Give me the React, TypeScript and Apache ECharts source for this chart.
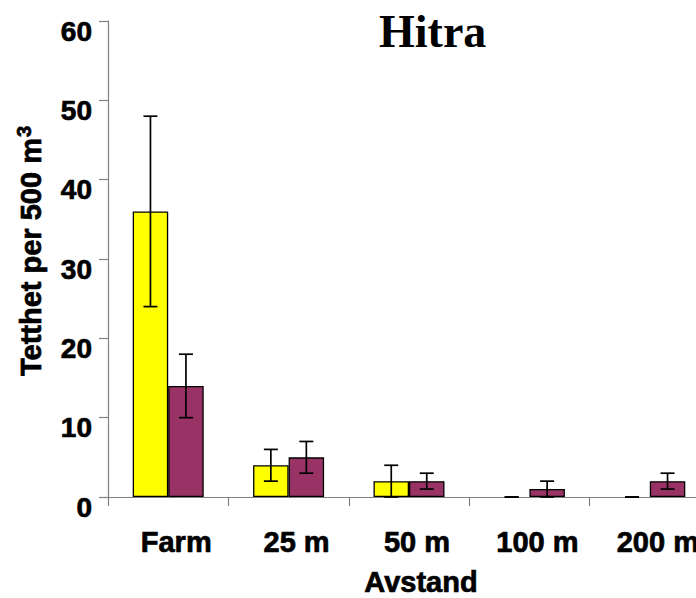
import React, { useEffect, useRef } from "react";
import * as echarts from "echarts";

const categories = ["Farm", "25 m", "50 m", "100 m", "200 m"];
const yellowValues = [36, 4, 2, 0, 0];
const yellowLow = [24, 2, 0, 0, 0];
const yellowHigh = [48, 6, 4, 0, 0];
const purpleValues = [14, 5, 2, 1, 2];
const purpleLow = [10, 3, 1, 0, 1];
const purpleHigh = [18, 7, 3, 2, 3];
const yTicks = { min: 0, max: 60, interval: 10 };

const BAR_W = 35.5;
const FONT = "'Liberation Sans', Arial, sans-serif";
const HEAVY = { textBorderColor: "#000", textBorderWidth: 0.7 };

function barData(vals: number[]) {
  return vals.map((v) => (v === 0 ? { value: 0, itemStyle: { borderWidth: 0 } } : v));
}

function errData(low: number[], high: number[]) {
  return low.map((l, i) => [i, l, high[i]]);
}

function makeErrorSeries(name: string, low: number[], high: number[], offset: number) {
  return {
    type: "custom",
    name,
    z: 10,
    encode: { x: 0, y: [1, 2] },
    data: errData(low, high),
    renderItem: (_params: any, api: any) => {
      const idx = api.value(0);
      const lo = api.coord([idx, api.value(1)]);
      const hi = api.coord([idx, api.value(2)]);
      const x = lo[0] + offset;
      const cap = 7;
      const style = { stroke: "#000", lineWidth: 1.7 };
      return {
        type: "group",
        children: [
          { type: "line", shape: { x1: x, y1: lo[1], x2: x, y2: hi[1] }, style },
          { type: "line", shape: { x1: x - cap, y1: hi[1], x2: x + cap, y2: hi[1] }, style },
          { type: "line", shape: { x1: x - cap, y1: lo[1], x2: x + cap, y2: lo[1] }, style },
        ],
      };
    },
  };
}

export default function App() {
  const ref = useRef<HTMLDivElement>(null);
  useEffect(() => {
    if (!ref.current) return;
    const chart = echarts.init(ref.current, undefined, { renderer: "svg" });
    chart.setOption({
      animation: false,
      backgroundColor: "#ffffff",
      title: {
        text: "Hitra",
        left: 379,
        top: 8,
        padding: 0,
        textStyle: {
          fontFamily: "'Liberation Serif', 'Times New Roman', serif",
          fontWeight: "bold",
          fontSize: 46,
          color: "#000",
        },
      },
      grid: {
        left: 108,
        top: 21,
        width: 602,
        height: 476,
        containLabel: false,
        outerBoundsMode: "none",
      },
      xAxis: {
        type: "category",
        data: categories,
        boundaryGap: true,
        name: "Avstand",
        nameLocation: "middle",
        nameGap: 70,
        nameMoveOverlap: false,
        nameTextStyle: {
          fontFamily: FONT,
          fontWeight: "bold",
          fontSize: 29,
          color: "#000",
          padding: [0, 0, 0, 24],
          ...HEAVY,
        },
        axisLine: { show: true, lineStyle: { color: "#808080", width: 1.2 } },
        axisTick: { show: true, inside: false, length: 9, alignWithLabel: false, lineStyle: { color: "#808080", width: 1.2 } },
        axisLabel: {
          margin: 30,
          fontFamily: FONT,
          fontWeight: "bold",
          fontSize: 29,
          color: "#000",
          interval: 0,
          padding: [0, 0, 0, 16],
          ...HEAVY,
        },
        splitLine: { show: false },
      },
      yAxis: {
        type: "value",
        min: yTicks.min,
        max: yTicks.max,
        interval: yTicks.interval,
        name: "Tetthet per 500 m{sup|3}",
        nameLocation: "middle",
        nameRotate: 90,
        nameGap: 60,
        nameMoveOverlap: false,
        nameTextStyle: {
          fontFamily: FONT,
          fontWeight: "bold",
          fontSize: 29,
          color: "#000",
          padding: [0, 0, 0, 16],
          ...HEAVY,
          rich: {
            sup: {
              fontFamily: FONT,
              fontWeight: "bold",
              fontSize: 20,
              color: "#000",
              verticalAlign: "top",
              padding: [0, 0, 14, 1],
              ...HEAVY,
            },
          },
        },
        axisLine: { show: true, lineStyle: { color: "#808080", width: 1.2 } },
        axisTick: { show: true, inside: false, length: 9, lineStyle: { color: "#808080", width: 1.2 } },
        axisLabel: {
          margin: 16,
          fontFamily: FONT,
          fontWeight: "bold",
          fontSize: 28,
          color: "#000",
          verticalAlign: "top",
          lineHeight: 20,
          ...HEAVY,
        },
        splitLine: { show: false },
      },
      series: [
        {
          type: "bar",
          name: "A",
          data: barData(yellowValues),
          barWidth: BAR_W,
          barGap: "0%",
          itemStyle: { color: "#FFFF00", borderColor: "#000", borderWidth: 1.3 },
        },
        {
          type: "bar",
          name: "B",
          data: barData(purpleValues),
          barWidth: BAR_W,
          barGap: "0%",
          itemStyle: { color: "#993366", borderColor: "#000", borderWidth: 1.3 },
        },
        makeErrorSeries("A err", yellowLow, yellowHigh, -BAR_W / 2),
        makeErrorSeries("B err", purpleLow, purpleHigh, BAR_W / 2),
      ],
    });
    return () => chart.dispose();
  }, []);
  return <div ref={ref} style={{ width: 696, height: 598, position: "absolute", left: 0, top: 0 }} />;
}
